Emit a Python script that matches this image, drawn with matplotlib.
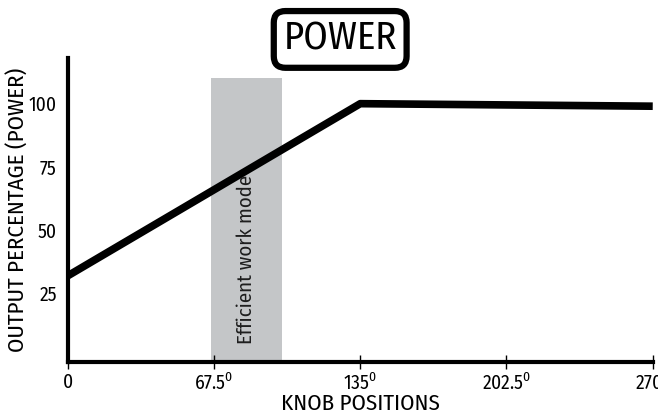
import matplotlib
matplotlib.use("Agg")
import matplotlib.pyplot as plt
from matplotlib import font_manager

# Data
knob_positions = [0, 135, 270]
output_pct = [32, 100, 99]
efficient_range = [66, 99]
efficient_top = 110
x_ticks = [0, 67.5, 135, 202.5, 270]
x_tick_labels = ["0", r"67.5$^{0}$", r"135$^{0}$", r"202.5$^{0}$", r"270$^{0}$"]
y_ticks = [25, 50, 75, 100]
y_tick_labels = ["25", "50", "75", "100"]

names = {f.name for f in font_manager.fontManager.ttflist}
def pick(cands):
    for c in cands:
        if c in names:
            return c
    return "DejaVu Sans"

fam = pick(["Fira Sans Condensed", "Roboto Condensed", "Barlow Semi Condensed",
            "Saira Semi Condensed", "IBM Plex Sans Condensed", "Open Sans Condensed"])
plt.rcParams['font.family'] = [fam, 'DejaVu Sans']
plt.rcParams['mathtext.fontset'] = 'custom'
plt.rcParams['mathtext.rm'] = fam

fig = plt.figure(figsize=(6.58, 4.15), dpi=100)
ax = fig.add_axes([0.103, 0.128, 0.889, 0.732])

ax.fill_between(efficient_range, -2, efficient_top, color="#c4c6c8", lw=0, zorder=1)
ax.text(sum(efficient_range) / 2, 5, "Efficient work mode", rotation=90,
        ha="center", va="bottom", fontsize=15, color="#1e1e1e", zorder=2)
ax.plot(knob_positions, output_pct, color="black", lw=5.5, solid_capstyle="butt", zorder=3)

ax.set_xlim(0, 270)
ax.set_ylim(-2, 118)
ax.set_xticks(x_ticks)
ax.set_xticklabels(x_tick_labels, fontsize=14)
ax.set_yticks(y_ticks)
ax.set_yticklabels(y_tick_labels, fontsize=14)
ax.tick_params(axis="x", direction="inout", length=10, width=1, pad=3)
ax.tick_params(axis="y", length=0, pad=8)
for s in ["top", "right"]:
    ax.spines[s].set_visible(False)
for s in ["left", "bottom"]:
    ax.spines[s].set_linewidth(3)

ax.set_xlabel("KNOB POSITIONS", fontsize=16.5)
ax.set_ylabel("OUTPUT PERCENTAGE (POWER)", fontsize=16.5)
ax.xaxis.set_label_coords(0.5, -0.104)
ax.yaxis.set_label_coords(-0.068, 0.5)

fig.text(0.517, 0.905, "POWER", ha="center", va="center", fontsize=28,
         bbox=dict(boxstyle="round,pad=0.25,rounding_size=0.3", fc="white",
                   ec="black", lw=4.5))

fig.savefig("out.png", dpi=100)
